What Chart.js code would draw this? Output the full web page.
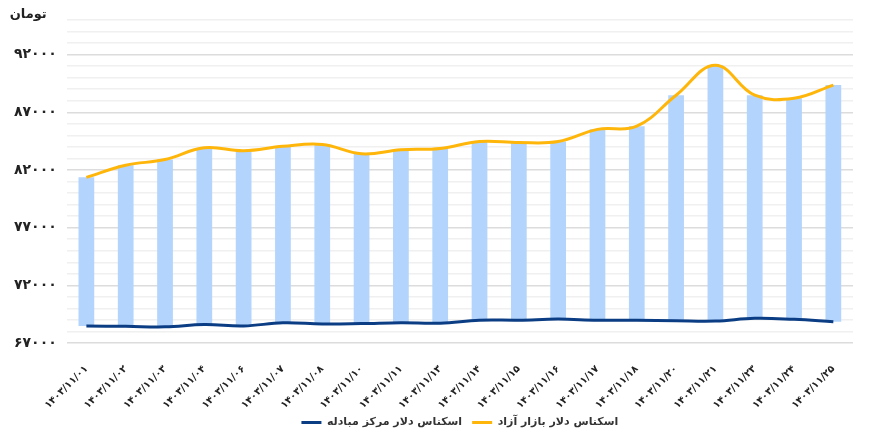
<!DOCTYPE html>
<html>
<head>
<meta charset="utf-8">
<script src="https://cdn.jsdelivr.net/npm/chart.js@4.4.1/dist/chart.umd.min.js"></script>
<style>
  body { margin: 0; background: #fff; }
  #wrap { width: 888px; height: 433px; position: relative; }
</style>
</head>
<body>
<div id="wrap"><canvas id="barChart"></canvas></div>
<script>
const categories = [
    '۱۴۰۳/۱۱/۰۱', '۱۴۰۳/۱۱/۰۲', '۱۴۰۳/۱۱/۰۳', '۱۴۰۳/۱۱/۰۴', '۱۴۰۳/۱۱/۰۶',
    '۱۴۰۳/۱۱/۰۷', '۱۴۰۳/۱۱/۰۸', '۱۴۰۳/۱۱/۱۰', '۱۴۰۳/۱۱/۱۱', '۱۴۰۳/۱۱/۱۳',
    '۱۴۰۳/۱۱/۱۴', '۱۴۰۳/۱۱/۱۵', '۱۴۰۳/۱۱/۱۶', '۱۴۰۳/۱۱/۱۷', '۱۴۰۳/۱۱/۱۸',
    '۱۴۰۳/۱۱/۲۰', '۱۴۰۳/۱۱/۲۱', '۱۴۰۳/۱۱/۲۳', '۱۴۰۳/۱۱/۲۴', '۱۴۰۳/۱۱/۲۵'
];

// free market dollar (toman)
const freeMarket = [
    81360, 82410, 82900, 83920, 83660,
    84050, 84210, 83400, 83750, 83860,
    84470, 84380, 84470, 85520, 85800,
    88480, 91070, 88480, 88220, 89360
];

// exchange center dollar (toman)
const exchangeCenter = [
    68470, 68450, 68400, 68600, 68480,
    68750, 68650, 68680, 68750, 68720,
    68980, 68980, 69070, 68980, 68980,
    68930, 68900, 69140, 69050, 68850
];

const seriesNames = ['اسکناس دلار مرکز مبادله', 'اسکناس دلار بازار آزاد'];
const unitLabel = 'تومان';
const yMin = 67000;
const yMax = 95000;

function toFa(s) {
    return String(s).replace(/[0-9]/g, d => '۰۱۲۳۴۵۶۷۸۹'[d]);
}

const FONT = '"DejaVu Sans", sans-serif';

// draws the unit label above the y axis
const unitPlugin = {
    id: 'unitLabel',
    afterDraw(chart) {
        const ctx = chart.ctx;
        ctx.save();
        ctx.font = 'bold 13px ' + FONT;
        ctx.fillStyle = '#222';
        ctx.textAlign = 'right';
        ctx.textBaseline = 'middle';
        ctx.fillText(unitLabel, chart.chartArea.left - 20, 15);
        ctx.restore();
    }
};

let chartConfig = {
    type: 'bar',
    data: {
        labels: categories,
        datasets: [{
            type: 'line',
            label: seriesNames[0],
            data: exchangeCenter,
            borderColor: '#0b3d84',
            backgroundColor: '#0b3d84',
            borderWidth: 3,
            pointRadius: 0,
            tension: 0.4,
            order: 0
        }, {
            type: 'line',
            label: seriesNames[1],
            data: freeMarket,
            borderColor: '#ffb60a',
            backgroundColor: '#ffb60a',
            borderWidth: 3,
            pointRadius: 0,
            tension: 0.4,
            order: 1
        }, {
            type: 'bar',
            label: 'range',
            data: categories.map((c, i) => [exchangeCenter[i], freeMarket[i]]),
            backgroundColor: '#b3d4fc',
            borderWidth: 0,
            barPercentage: 0.4,
            categoryPercentage: 1,
            order: 2
        }]
    },
    plugins: [unitPlugin],
    options: {
        responsive: true,
        maintainAspectRatio: false,
        animation: false,
        layout: {
            padding: { top: 20, right: 35, left: 4, bottom: -5 }
        },
        plugins: {
            tooltip: { enabled: false },
            legend: {
                position: 'bottom',
                fullSize: false,
                labels: {
                    filter: item => item.datasetIndex < 2,
                    usePointStyle: true,
                    pointStyle: 'line',
                    pointStyleWidth: 20,
                    boxHeight: 12,
                    padding: 10,
                    color: '#333',
                    font: { family: FONT, size: 11, weight: 'bold' }
                }
            }
        },
        scales: {
            y: {
                min: yMin,
                max: yMax,
                border: { display: false },
                ticks: {
                    stepSize: 1000,
                    autoSkip: false,
                    padding: 10,
                    color: '#222',
                    font: { family: FONT, size: 14, weight: 'bold' },
                    callback: v => ((v - yMin) % 5000 === 0 && v < yMax) ? toFa(v) : ''
                },
                grid: {
                    drawTicks: false,
                    lineWidth: 1.5,
                    color: c => ((c.tick.value - yMin) % 5000 === 0) ? '#dcdcdc' : '#f0f0f0'
                }
            },
            x: {
                border: { display: false },
                grid: { display: false },
                afterFit: s => {
                    s.paddingLeft = 0;
                    s.paddingRight = 0;
                    s.height = 64;
                },
                ticks: {
                    minRotation: 45,
                    maxRotation: 45,
                    autoSkip: false,
                    padding: 12,
                    color: '#222',
                    font: { family: FONT, size: 10, weight: 'bold' }
                }
            }
        }
    }
};

window.onload = function() {
    const ctx = document.getElementById('barChart').getContext('2d');
    window.myBar = new Chart(ctx, chartConfig);
};
</script>
</body>
</html>
